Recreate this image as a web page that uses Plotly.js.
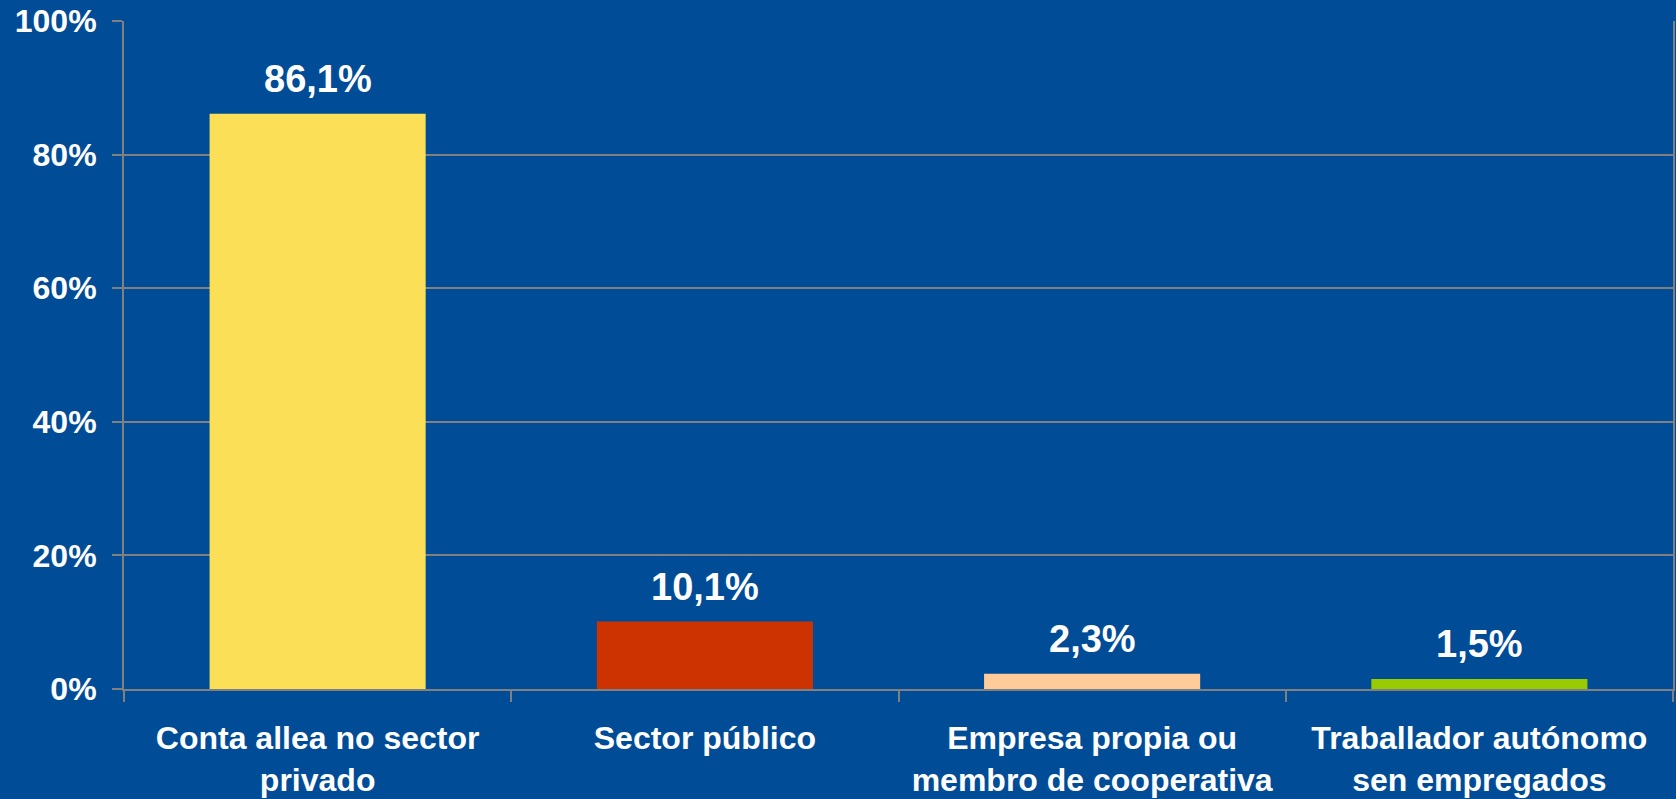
<!DOCTYPE html>
<html>
<head>
<meta charset="utf-8">
<script src="https://cdn.plot.ly/plotly-3.0.1.min.js"></script>
<style>html,body{margin:0;padding:0;background:#004C97;}#chart{width:1676px;height:799px;}</style>
</head>
<body>
<div id="chart"></div>
<script>
const categories = ["Conta allea no sector<br>privado", "Sector público", "Empresa propia ou<br>membro de cooperativa", "Traballador autónomo<br>sen empregados"];
const values = [86.1, 10.1, 2.3, 1.5];
const valueLabels = ["86,1%", "10,1%", "2,3%", "1,5%"];
const barColors = ["#FADF57", "#CC3300", "#FFCC99", "#99CC00"];
const yTickVals = [0, 20, 40, 60, 80, 100];
const yTickText = ["0%", "20%", "40%", "60%", "80%", "100%"];

const fontFam = "Liberation Sans, Arial, sans-serif";
const trace = {
  type: "bar",
  x: categories,
  y: values,
  marker: {color: barColors, line: {width: 0}},
  hoverinfo: "none"
};
const annotations = categories.map((c, i) => ({
  x: c, y: values[i], xref: "x", yref: "y",
  text: valueLabels[i], showarrow: false,
  yanchor: "bottom", yshift: 12,
  font: {family: fontFam, size: 38, color: "#FFFFFF", weight: "bold"}
}));
const layout = {
  width: 1676, height: 799,
  paper_bgcolor: "#004C97", plot_bgcolor: "#004C97",
  margin: {l: 124, r: 3, t: 21, b: 110},
  bargap: 0.442,
  showlegend: false,
  font: {family: fontFam, color: "#FFFFFF", weight: "bold"},
  xaxis: {
    tickson: "boundaries", ticks: "outside", ticklen: 11, tickwidth: 2, tickcolor: "#808080",
    showline: true, linecolor: "#808080", linewidth: 2,
    showgrid: false,
    tickfont: {family: fontFam, size: 32, color: "#FFFFFF", weight: "bold"},
    ticklabelstandoff: 20
  },
  yaxis: {
    range: [0, 100], tickvals: yTickVals, ticktext: yTickText,
    ticks: "outside", ticklen: 10, tickwidth: 2, tickcolor: "#808080",
    showline: true, mirror: true, linecolor: "#808080", linewidth: 2,
    showgrid: true, gridcolor: "#808080", gridwidth: 2,
    zeroline: false,
    tickfont: {family: fontFam, size: 32, color: "#FFFFFF", weight: "bold"},
    ticklabelstandoff: 9
  },
  annotations: annotations
};
Plotly.newPlot("chart", [trace], layout, {staticPlot: true, displayModeBar: false});
</script>
</body>
</html>
